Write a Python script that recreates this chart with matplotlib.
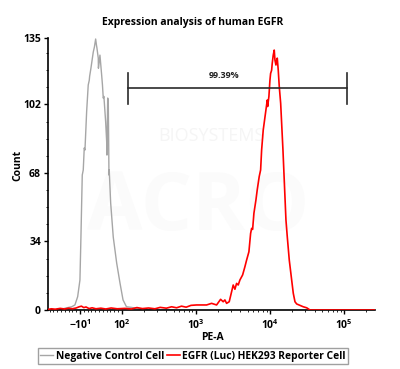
import numpy as np
import matplotlib
matplotlib.use("Agg")
import matplotlib.pyplot as plt
from matplotlib.ticker import AutoMinorLocator

plt.rcParams['font.family'] = ['Open Sans', 'DejaVu Sans']
plt.rcParams['font.weight'] = 'bold'
plt.rcParams['mathtext.fontset'] = 'custom'
plt.rcParams['mathtext.rm'] = 'Open Sans:bold'
plt.rcParams['mathtext.bf'] = 'Open Sans:bold'

title = "Expression analysis of human EGFR"
series_names = ["Negative Control Cell", "EGFR (Luc) HEK293 Reporter Cell"]

# negative control (gray), PE-A intensity vs count
neg_x = [-94, -60, -46.8, -31.8, -23.2, -16, -10, -7.4, -5.5, -3.9, -1.3, 1.3, 3.2,
         7.6, 11.8, 14.5, 15.5, 18.9, 25, 28, 31.3, 33.4, 34.7, 38.2, 38.6, 40.5,
         42.6, 47.1, 49.2, 51.3, 53, 57.6, 60.3, 61, 63, 64.5, 65.5, 66.3, 67,
         70.8, 77.6, 86.6, 95.3, 104, 115.7, 135, 175, 240, 500]
neg_y = [0, 0.3, 1, 1.6, 2.5, 6.6, 14.9, 36.2, 53, 67, 69.5, 80.4, 79.4,
         98.4, 111.7, 114, 116, 120, 128, 130.5, 134.5, 131.5, 130, 125, 120, 123,
         126.5, 116.6, 111.7, 105.2, 106, 93.4, 83.5, 76.9, 105.2, 103.4, 84.4, 67, 69.5,
         53.1, 36.2, 23.3, 13.4, 5, 1.6, 1.3, 0.5, 0, 0]

# EGFR reporter cell (red)
egfr_x = [-94, -85, -75, -62, -50, -40, -30, -20, -12, -6, 0, 6, 14, 22, 32, 45,
          58, 72, 88, 110, 135, 160, 190, 230, 280, 330, 400, 470, 550, 640, 740,
          860, 1021, 1396, 1631, 1905, 2158, 2339, 2466, 2600, 2820, 3193, 3366,
          3548, 3732, 3934, 4278, 4596, 4845, 5203, 5485, 5662, 5837, 6078, 6471,
          6736, 7164, 7485, 7723, 8117, 8831, 9200, 9310, 9687, 10000, 10210,
          10540, 10740, 11080, 11430, 11690, 12050, 12320, 12560, 12950, 13370,
          13960, 14990, 16450, 17140, 18240, 19650, 20660, 21780, 22970, 25420,
          28180, 31330, 34730, 60000, 262000]
egfr_y = [0.3, 0.6, 0.4, 0.8, 0.5, 0.9, 0.6, 1.0, 1.6, 1.9, 1.2, 1.5, 0.7, 1.1, 0.6, 0.9,
          0.5, 1.0, 0.6, 0.8, 0.5, 1.2, 0.7, 1.0, 0.6, 1.3, 0.9, 1.6, 1.1, 1.9, 1.4,
          2.3, 2.5, 2.5, 3.3, 2.5, 5.3, 4.1, 5.0, 3.3, 4.1, 12.4, 10.3,
          13.2, 12.4, 14.9, 17.4, 21.5, 24.8, 28.9, 38, 40.5, 40, 48, 54.6,
          59.6, 66.2, 69.5, 79.4, 89.3, 99.3, 104.2, 101, 106, 114, 117.4,
          119, 122.4, 126.5, 129, 124, 121.6, 124, 125, 119, 110.8, 102.6,
          79.4, 44.7, 36.4, 24.8, 14.9, 8.3, 4.1, 3, 2.3,
          1.6, 1.1, 0, 0, 0]

gate_lo, gate_hi, gate_y = 120, 110000, 110
gate_label = "99.39%"

xtick_vals = [-10, 100, 1000, 10000, 100000]
xtick_labels = [r"$-10^{1}$", r"$10^{2}$", r"$10^{3}$", r"$10^{4}$", r"$10^{5}$"]
ytick_vals = [0, 34, 68, 102, 135]

fig = plt.figure(figsize=(4.0, 3.69), dpi=100)
ax = fig.add_axes([48 / 400, 1 - 310 / 369, 327 / 400, 272 / 369])
ax.set_xscale('symlog', linthresh=100, linscale=0.462)

# faint watermark
ax.text(0.5, 0.64, "BIOSYSTEMS", transform=ax.transAxes, ha='center', va='center',
        fontsize=13, color='#f5f5f5', fontweight='normal', zorder=0)
ax.text(0.46, 0.37, "ACRO", transform=ax.transAxes, ha='center', va='center',
        fontsize=58, color='#fbfbfb', fontweight='bold', zorder=0)

ax.plot(neg_x, neg_y, color='#a6a6a6', lw=1.0, label=series_names[0], zorder=2)
ax.plot(egfr_x, egfr_y, color='#ff0000', lw=1.2, label=series_names[1], zorder=3)

# gate
ax.plot([gate_lo, gate_hi], [gate_y, gate_y], color='#2b2b2b', lw=1.2, zorder=4)
for gx in (gate_lo, gate_hi):
    ax.plot([gx, gx], [gate_y - 8, gate_y + 7.5], color='#2b2b2b', lw=1.2, zorder=4)
ax.text(2400, gate_y + 4, gate_label, ha='center', va='bottom', fontsize=6.5,
        fontweight='bold', color='#222222')

ax.spines['top'].set_visible(False)
ax.spines['right'].set_visible(False)
ax.spines['left'].set_linewidth(1.2)
ax.spines['bottom'].set_linewidth(1.2)

ax.set_xticks(xtick_vals)
ax.set_xticklabels(xtick_labels)
minor_x = [k * 10 ** d for d in range(2, 6) for k in range(2, 10) if k * 10 ** d < 260000]
minor_x += list(range(-90, 100, 10))
ax.set_xticks(minor_x, minor=True)
ax.set_yticks(ytick_vals)
ax.yaxis.set_minor_locator(AutoMinorLocator(4))
ax.tick_params(axis='both', which='major', length=3, width=1, labelsize=7.5, pad=2)
ax.tick_params(axis='x', which='major', pad=3)
ax.tick_params(axis='both', which='minor', length=1.5, width=0.6)
for lab in ax.get_yticklabels():
    lab.set_fontweight('bold')
ax.set_xlim(-94, 262000)
ax.set_ylim(0, 135)

fig.text(193 / 400, 1 - 22 / 369, title, ha='center', va='center', fontsize=7.5,
         fontweight='bold')
fig.text(18 / 400, 1 - 165 / 369, "Count", rotation=90, ha='center', va='center',
         fontsize=7.5, fontweight='bold')
fig.text(212 / 400, 1 - 337 / 369, "PE-A", ha='center', va='center', fontsize=7.5,
         fontweight='bold')

leg = fig.legend(loc='center', bbox_to_anchor=(193 / 400, 1 - 356 / 369), ncol=2,
                 fontsize=7.4, handlelength=1.3, handletextpad=0.2, columnspacing=0.3,
                 borderpad=0.25, fancybox=False, edgecolor='#a0a0a0', framealpha=1)
leg.get_frame().set_linewidth(1.0)
for t in leg.get_texts():
    t.set_fontweight('bold')

fig.savefig("out.png", dpi=100)
